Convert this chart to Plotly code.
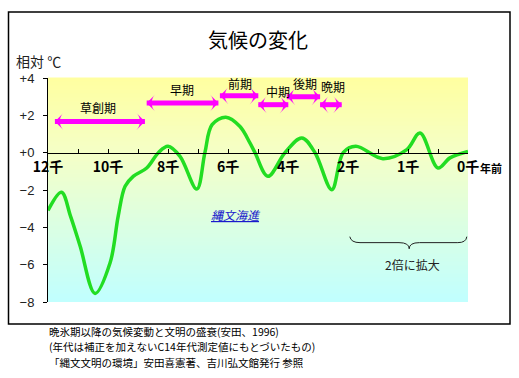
import plotly.graph_objects as go

# ---------------- data ----------------
# temperature curve (thousand years ago, relative temperature in deg C)
curve_ka = [12.0, 11.55, 11.25, 10.93, 10.43, 9.93, 9.66, 9.43, 9.16, 8.71, 8.32, 8.0, 7.6,
            7.04, 6.77, 6.53, 6.07, 5.6, 5.27, 5.1, 4.67, 4.1, 3.54, 3.1, 2.54, 2.16,
            1.87, 1.42, 1.02, 0.8, 0.5, 0.3, 0.0]
curve_temp = [-3.1, -2.12, -3.4, -5.0, -7.54, -5.9, -3.4, -1.8, -1.27, -0.82, 0.0, 0.34, -0.2,
              -1.95, 0.0, 1.5, 1.9, 1.4, 0.52, 0.0, -1.27, 0.0, 0.79, 0.0, -1.98, 0.0,
              0.34, -0.32, 0.16, 1.05, -0.82, -0.28, 0.07]

# Jomon periods (double arrows)
period_names = ["草創期", "早期", "前期", "中期", "後期", "晩期"]
period_start_ka = [11.77, 8.71, 6.27, 4.99, 4.04, 2.93]
period_end_ka = [8.77, 6.32, 4.99, 3.99, 2.93, 2.21]
period_arrow_y = [1.67, 2.66, 3.05, 2.57, 3.0, 2.57]
period_label_ka = [10.32, 7.53, 5.6, 4.32, 3.43, 2.51]
period_label_y = [2.4, 3.37, 3.73, 3.28, 3.73, 3.55]

# axis ticks
x_tick_ka = [12, 10, 8, 6, 4, 2, 1, 0]
x_tick_text = ["12千", "10千", "8千", "6千", "4千", "2千", "1千", "0千"]
y_tick_vals = [4, 2, 0, -2, -4, -6, -8]
y_tick_text = ["+4", "+2", "+0", "−2", "−4", "−6", "−8"]

footnotes = [
    "晩氷期以降の気候変動と文明の盛衰(安田、1996)",
    "(年代は補正を加えないC14年代測定値にもとづいたもの)",
    "「縄文文明の環境」安田喜憲著、吉川弘文館発行 参照",
]


# last 2000 years are drawn at double scale
def ka_to_pos(ka):
    return (12 - ka) / 2 if ka >= 2 else 5 + (2 - ka)


W, H = 519, 378
L, R, T, B = 48, 468, 78, 302


def px_x(px):
    return (px - L) / (R - L)


def px_y(py):
    return (B - py) / (B - T)


FONT = "Noto Sans CJK JP"
MAG = "#FF00FF"

fig = go.Figure()

# temperature curve
fig.add_trace(go.Scatter(
    x=[ka_to_pos(k) for k in curve_ka], y=curve_temp, mode="lines",
    line=dict(color="#22DD22", width=3.5, shape="spline", smoothing=1.0),
    hoverinfo="skip"))

# period arrows
for s, e, y in zip(period_start_ka, period_end_ka, period_arrow_y):
    fig.add_trace(go.Scatter(
        x=[ka_to_pos(s), ka_to_pos(e)], y=[y, y], mode="lines+markers",
        line=dict(color=MAG, width=5),
        marker=dict(symbol="arrow-wide", size=12, color=MAG, angle=[-90, 90],
                    line=dict(width=0)),
        hoverinfo="skip"))


def note(x, y, text, size, color="black", xref="paper", yref="paper", xanchor="center"):
    return dict(x=x, y=y, xref=xref, yref=yref, text=text, showarrow=False,
                xanchor=xanchor, yanchor="middle",
                font=dict(family=FONT, size=size, color=color))


annotations = []
for name, k, y in zip(period_names, period_label_ka, period_label_y):
    annotations.append(note(ka_to_pos(k), y, name, 12, xref="x", yref="y"))

# labels in chart
annotations.append(note(ka_to_pos(5.73), -3.32, "<i><u>縄文海進</u></i>", 12, "#1A1ACC",
                        xref="x", yref="y"))
annotations.append(note(ka_to_pos(10.3), -8.36, "<i><u>ヤンガードゥリアス期</u></i>", 11,
                        "#1A1ACC", xref="x", yref="y"))
annotations.append(note(6.08, -6.0, "2倍に拡大", 12, "#222222", xref="x", yref="y"))

# title and other texts (paper coords)
annotations.append(note(px_x(257.5), px_y(40), "気候の変化", 20))
annotations.append(note(px_x(14), px_y(61), "相対 ℃", 14, "#222222", xanchor="left"))
annotations.append(note(px_x(478), px_y(168), "<b>年前</b>", 11, xanchor="left"))
for i, line in enumerate(footnotes):
    annotations.append(note(px_x(47), px_y(331.2 + i * 15.5), line, 10.5, xanchor="left"))

shapes = []
# gradient background of plot area
n = 56
top = (255, 255, 160)
mid = (244, 255, 200)
bot = (192, 255, 255)
for i in range(n):
    t = (i + 0.5) / n
    if t < 0.35:
        u = t / 0.35
        c = [round(top[j] + (mid[j] - top[j]) * u) for j in range(3)]
    else:
        u = (t - 0.35) / 0.65
        c = [round(mid[j] + (bot[j] - mid[j]) * u) for j in range(3)]
    shapes.append(dict(type="rect", xref="paper", yref="paper", x0=0, x1=1,
                       y0=1 - (i + 1) / n, y1=1 - i / n + 0.002,
                       fillcolor="rgb(%d,%d,%d)" % tuple(c), line=dict(width=0), layer="below"))

# outer frame
shapes.append(dict(type="rect", xref="paper", yref="paper",
                   x0=px_x(8.5), x1=px_x(510), y0=px_y(12), y1=px_y(324),
                   line=dict(color="black", width=1.5), fillcolor="rgba(0,0,0,0)"))

# brace under last 2000 years
brace = ("M 5.03,-4.5 Q 5.05,-4.82 5.2,-4.82 L 5.85,-4.82 Q 6.02,-4.82 6.02,-5.15 "
         "Q 6.02,-4.82 6.19,-4.82 L 6.83,-4.82 Q 6.97,-4.82 6.98,-4.5")
shapes.append(dict(type="path", xref="x", yref="y", path=brace,
                   line=dict(color="#222222", width=1)))

fig.update_layout(
    width=W, height=H,
    margin=dict(l=L, r=W - R, t=T, b=H - B, pad=0),
    paper_bgcolor="white", plot_bgcolor="white",
    showlegend=False,
    annotations=annotations,
    shapes=shapes,
    xaxis=dict(range=[0, 7], tickmode="array",
               tickvals=[ka_to_pos(k) for k in x_tick_ka], ticktext=x_tick_text,
               ticks="inside", ticklen=4, tickcolor="black", tickwidth=1,
               minor=dict(ticks="inside", ticklen=4, dtick=0.5, tick0=0,
                          tickcolor="black", tickwidth=1),
               showline=True, linecolor="black", linewidth=1,
               anchor="free", position=8 / 12,
               showgrid=False, zeroline=False, ticklabelstandoff=2,
               tickfont=dict(family=FONT, size=14, color="black", weight="bold")),
    yaxis=dict(range=[-8, 4], tickmode="array", tickvals=y_tick_vals, ticktext=y_tick_text,
               ticks="outside", ticklen=4, tickcolor="black",
               showline=True, linecolor="black", linewidth=1,
               showgrid=False, zeroline=False, ticklabelstandoff=6,
               tickfont=dict(family="Liberation Sans", size=13, color="#222222")),
)

fig.write_html("out.html", config={"displayModeBar": False},
               post_script="document.body.style.margin='0px';")
